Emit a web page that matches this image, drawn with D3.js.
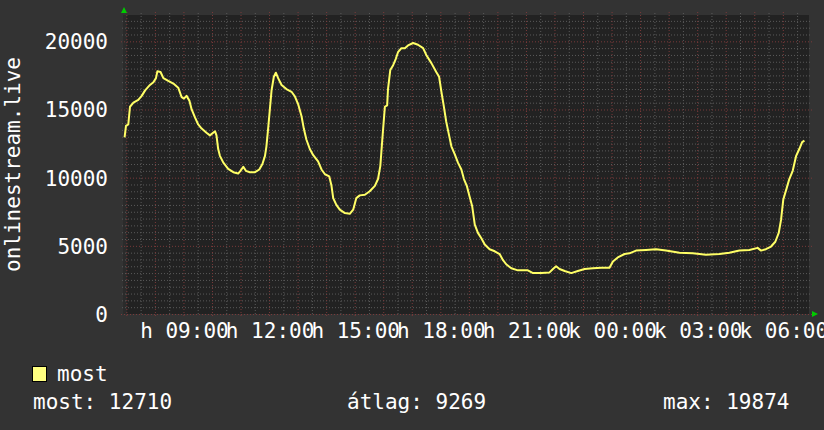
<!DOCTYPE html>
<html>
<head>
<meta charset="utf-8">
<script src="https://cdn.jsdelivr.net/npm/d3@7"></script>
<style>
  body { margin: 0; background: #333333; }
  svg text { font-family: "DejaVu Sans Mono", monospace; fill: #ffffff; }
</style>
</head>
<body>
<div id="chartContainer"></div>
<script>
// hours since Monday 00:00, and the "most" series (viewers)
const hours = [6.92, 6.97, 7.05, 7.11, 7.23, 7.40, 7.52, 7.64, 7.81, 7.93, 8.02, 8.07, 8.18, 8.28, 8.45, 8.63, 8.80, 8.92, 9.00, 9.09,
  9.19, 9.27, 9.39, 9.50, 9.62, 9.79, 9.91, 10.09, 10.14, 10.20, 10.26, 10.38, 10.55, 10.73, 10.90, 10.98, 11.08, 11.17, 11.31, 11.49,
  11.64, 11.75, 11.84, 11.89, 11.95, 12.01, 12.07, 12.15, 12.22, 12.30, 12.42, 12.59, 12.77, 12.89, 13.00, 13.12, 13.20, 13.29, 13.41, 13.53,
  13.70, 13.82, 13.94, 14.09, 14.17, 14.23, 14.34, 14.46, 14.64, 14.81, 14.93, 15.04, 15.16, 15.34, 15.51, 15.69, 15.80, 15.88, 15.95, 16.04,
  16.12, 16.15, 16.23, 16.33, 16.42, 16.50, 16.62, 16.74, 16.85, 17.03, 17.20, 17.38, 17.49, 17.67, 17.84, 17.94, 18.02, 18.10, 18.19, 18.29,
  18.37, 18.49, 18.60, 18.72, 18.81, 18.91, 19.01, 19.10, 19.19, 19.30, 19.42, 19.54, 19.71, 19.89, 20.06, 20.18, 20.29, 20.47, 20.70, 20.88,
  21.05, 21.23, 21.52, 21.81, 21.93, 22.04, 22.16, 22.34, 22.57, 22.80, 23.04, 23.33, 23.62, 23.91, 24.03, 24.20, 24.44, 24.61, 24.84, 25.19,
  25.54, 25.89, 26.36, 26.83, 27.29, 27.76, 28.11, 28.46, 28.81, 29.10, 29.22, 29.39, 29.57, 29.72, 29.84, 29.92, 30.00, 30.12, 30.21, 30.33,
  30.45, 30.56, 30.66, 30.74];
const viewers = [12950, 13800, 13900, 15200, 15500, 15700, 16000, 16400, 16800, 17000, 17300, 17800, 17750, 17300, 17100, 16900, 16600, 15900, 15800, 16000,
  15650, 15000, 14400, 13900, 13600, 13300, 13100, 13400, 13100, 12100, 11600, 11100, 10650, 10400, 10300, 10500, 10800, 10500, 10400, 10400,
  10600, 11000, 11600, 12300, 13600, 15000, 16400, 17400, 17700, 17300, 16800, 16500, 16300, 15950, 15400, 14500, 13600, 12800, 12100, 11650,
  11200, 10600, 10250, 10100, 9400, 8500, 8000, 7650, 7400, 7350, 7650, 8500, 8700, 8750, 9000, 9400, 9900, 10850, 12800, 15200,
  15300, 16500, 17900, 18250, 18700, 19200, 19500, 19500, 19700, 19874, 19750, 19500, 19000, 18400, 17750, 17400, 16300, 15300, 14100, 13100,
  12300, 11700, 11100, 10600, 9900, 9400, 8600, 7900, 6550, 5950, 5550, 5100, 4750, 4600, 4400, 3950, 3650, 3350, 3200, 3200,
  3200, 3000, 3000, 3050, 3300, 3500, 3300, 3150, 3000, 3150, 3300, 3350, 3400, 3400, 3850, 4150, 4400, 4450, 4650, 4700,
  4750, 4650, 4500, 4450, 4350, 4400, 4500, 4650, 4700, 4850, 4650, 4750, 4950, 5300, 5950, 6900, 8400, 9250, 9900, 10500,
  11600, 12100, 12600, 12710];

const xTickHours = [9, 12, 15, 18, 21, 24, 27, 30];
const xTickLabels = ["h 09:00", "h 12:00", "h 15:00", "h 18:00", "h 21:00", "k 00:00", "k 03:00", "k 06:00"];
const yTicks = [0, 5000, 10000, 15000, 20000];
const yTitle = "onlinestream.live";
const seriesName = "most";
const legendStats = ["most: 12710", "átlag: 9269", "max: 19874"];

(function() {
  const fullWidth = 824, fullHeight = 430;
  const plot = {left: 124, right: 809, top: 15, bottom: 314};

  const svg = d3.create("svg")
    .attr("width", fullWidth)
    .attr("height", fullHeight)
    .attr("viewBox", [0, 0, fullWidth, fullHeight]);

  svg.append("rect").attr("width", fullWidth).attr("height", fullHeight).attr("fill", "#333333");

  const x = d3.scaleLinear().domain([6.9, 30.9]).range([plot.left, plot.right]);
  const y = d3.scaleLinear().domain([0, 21930]).range([plot.bottom, plot.top]);

  // plot area
  svg.append("rect")
    .attr("x", plot.left).attr("y", plot.top)
    .attr("width", plot.right - plot.left).attr("height", plot.bottom - plot.top)
    .attr("fill", "#222222");
  svg.append("rect")
    .attr("x", plot.left - 1).attr("y", plot.top)
    .attr("width", 4).attr("height", plot.bottom - plot.top)
    .attr("fill", "#2b2b2b");

  // grid: minor then major
  const minorX = d3.range(7, 31, 0.5).filter(h => h % 1 !== 0);
  const majorX = d3.range(7, 31, 1);
  const minorY = d3.range(500, 22000, 500).filter(v => v % 5000 !== 0);
  const majorY = d3.range(0, 22000, 5000);
  const grid = svg.append("g");

  grid.selectAll(".mx").data(minorX).join("line")
    .attr("x1", d => x(d)).attr("x2", d => x(d))
    .attr("y1", plot.top - 2).attr("y2", plot.bottom + 2)
    .attr("stroke", "#5a5a5a").attr("stroke-dasharray", "1,2");
  grid.selectAll(".my").data(minorY).join("line")
    .attr("x1", plot.left - 2).attr("x2", plot.right + 2)
    .attr("y1", d => y(d) + 0.5).attr("y2", d => y(d) + 0.5)
    .attr("stroke", "#5a5a5a").attr("stroke-dasharray", "1,2");
  grid.selectAll(".Mx").data(majorX).join("line")
    .attr("x1", d => x(d)).attr("x2", d => x(d))
    .attr("y1", plot.top - 3).attr("y2", plot.bottom + 3)
    .attr("stroke", "#7a3a3a").attr("stroke-dasharray", "1,2");
  grid.selectAll(".My").data(majorY).join("line")
    .attr("x1", plot.left - 3).attr("x2", plot.right + 3)
    .attr("y1", d => y(d) + 0.5).attr("y2", d => y(d) + 0.5)
    .attr("stroke", "#7a3a3a").attr("stroke-dasharray", "1,2");

  // axes (labels only)
  const xAxis = d3.axisBottom(x)
    .tickValues(xTickHours)
    .tickSize(0)
    .tickFormat((d, i) => xTickLabels[i]);
  const gx = svg.append("g")
    .attr("transform", `translate(0, ${plot.bottom})`)
    .call(xAxis);
  gx.select(".domain").remove();
  gx.selectAll("text")
    .attr("y", 24).attr("dy", 0)
    .attr("fill", "#ffffff")
    .style("font-size", "21px")
    .style("font-family", "DejaVu Sans Mono");

  const yAxis = d3.axisLeft(y).tickValues(yTicks).tickSize(0).tickFormat(d3.format("d"));
  const gy = svg.append("g")
    .attr("transform", `translate(${plot.left - 16}, 0)`)
    .call(yAxis);
  gy.select(".domain").remove();
  gy.selectAll("text")
    .attr("x", 0).attr("dy", "0.35em")
    .attr("fill", "#ffffff")
    .style("font-size", "21px")
    .style("font-family", "DejaVu Sans Mono");

  // y title
  svg.append("text")
    .attr("transform", `translate(20, ${(plot.top + plot.bottom) / 2}) rotate(-90)`)
    .attr("text-anchor", "middle")
    .style("font-size", "21px")
    .text(yTitle);

  // arrows
  svg.append("path")
    .attr("d", `M${plot.left - 3},${plot.top - 2} L${plot.left + 3},${plot.top - 2} L${plot.left},${plot.top - 8} Z`)
    .attr("fill", "#00cc00");
  svg.append("path")
    .attr("d", `M${plot.right + 3},${plot.bottom - 3} L${plot.right + 3},${plot.bottom + 3} L${plot.right + 9},${plot.bottom} Z`)
    .attr("fill", "#00cc00");

  // series line
  const line = d3.line()
    .x((d, i) => x(hours[i]))
    .y(d => y(d));
  svg.append("path")
    .datum(viewers)
    .attr("fill", "none")
    .attr("stroke", "#ffff66")
    .attr("stroke-width", 2)
    .attr("stroke-linejoin", "round")
    .attr("d", line);

  // legend
  svg.append("rect")
    .attr("x", 32.5).attr("y", 366.5).attr("width", 14).attr("height", 15)
    .attr("fill", "#ffff80").attr("stroke", "#000000");
  svg.append("text")
    .attr("x", 57).attr("y", 381)
    .style("font-size", "21px")
    .text(seriesName);
  const statX = [33, 347, 663];
  svg.selectAll(".stat").data(legendStats).join("text")
    .attr("x", (d, i) => statX[i]).attr("y", 409)
    .style("font-size", "21px")
    .text(d => d);

  document.getElementById("chartContainer").append(svg.node());
})();
</script>
</body>
</html>
